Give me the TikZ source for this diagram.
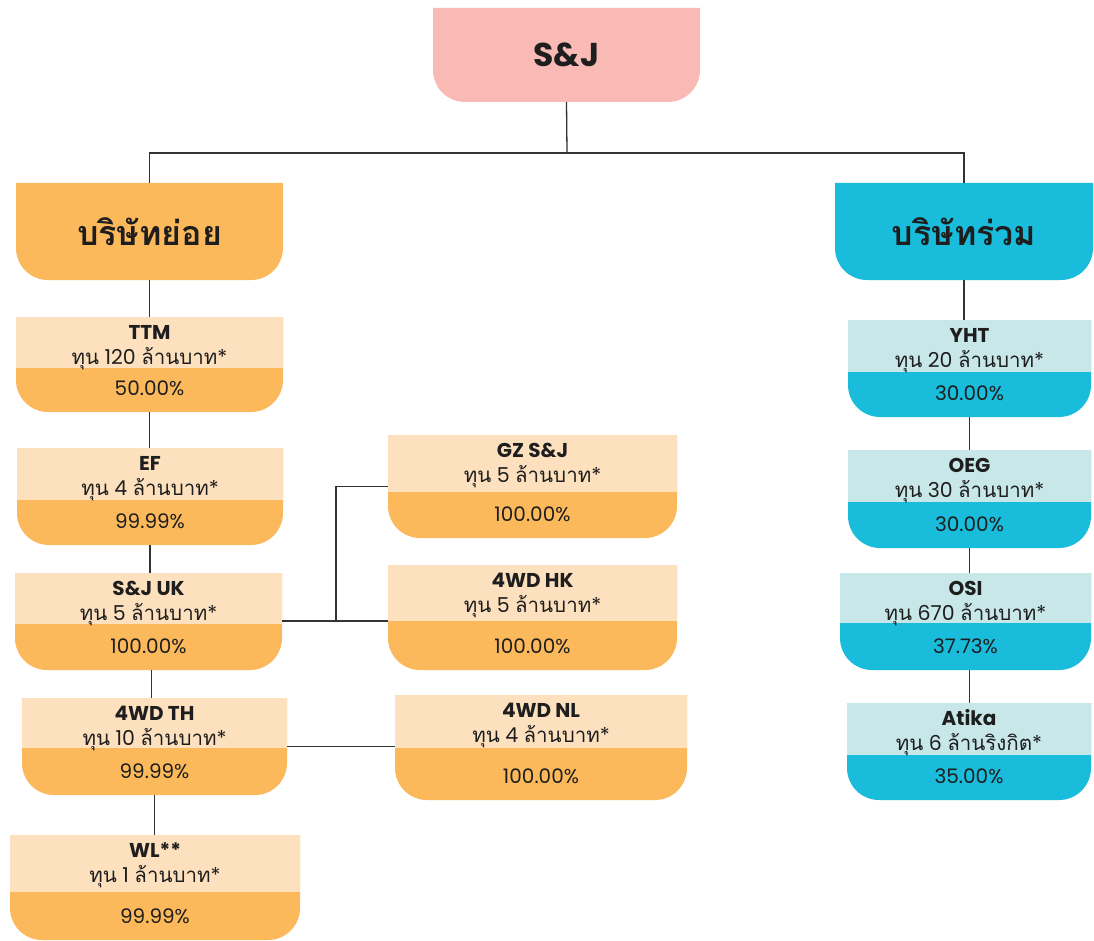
\documentclass[tikz,border=0pt]{standalone}
\usepackage{fontspec}
\setmainfont{Poppins}
\newfontfamily\thai[Script=Thai]{Loma}
\usetikzlibrary{fit}
\definecolor{orgdark}{HTML}{FBB95B}
\definecolor{orglight}{HTML}{FDE1BF}
\definecolor{cyandark}{HTML}{19BCDB}
\definecolor{cyanlight}{HTML}{C7E7E8}
\definecolor{pinkbox}{HTML}{F9BAB5}
\definecolor{linegray}{HTML}{333333}
\definecolor{txt}{HTML}{1E1E1E}
\tikzset{
  conn/.style={draw=linegray, line width=1.3pt},
  anchorbox/.style={inner sep=0pt, outer sep=0pt},
  titletext/.style={font=\fontsize{20}{22}\selectfont\bfseries, text=txt, inner sep=0pt, anchor=base},
  captext/.style={font=\fontsize{20.5}{22}\selectfont, text=txt, inner sep=0pt, anchor=base},
  pcttext/.style={font=\fontsize{20}{22}\selectfont, text=txt, inner sep=0pt, anchor=base},
  headtext/.style={font=\fontsize{34}{40}\selectfont\thai\bfseries, text=txt, inner sep=0pt},
  roottext/.style={font=\fontsize{33}{36}\selectfont\bfseries, text=txt, inner sep=0pt},
}
\def\R{32}
% name, x1, x2, ytop, ysplit, ybot, dark, light
\newcommand\orgbox[8]{%
  \fill[#7] (#2,-#4) -- (#3,-#4) -- (#3,-#6+\R) arc[start angle=0,end angle=-90,radius=\R]
    -- (#2+\R,-#6) arc[start angle=270,end angle=180,radius=\R] -- cycle;
  \fill[#8] (#2,-#4) rectangle (#3,-#5);
  \node[anchorbox, fit={(#2,-#4) (#3,-#6)}] (#1) {};
}
% name, x1, x2, ytop, ybot, colour
\newcommand\headbox[6]{%
  \fill[#6] (#2,-#4) -- (#3,-#4) -- (#3,-#5+\R) arc[start angle=0,end angle=-90,radius=\R]
    -- (#2+\R,-#5) arc[start angle=270,end angle=180,radius=\R] -- cycle;
  \node[anchorbox, fit={(#2,-#4) (#3,-#5)}] (#1) {};
}
\newcommand\boxtext[4]{%
  \node[titletext] (#1-t) at ([yshift=-22pt]#1.north) {#2};
  \node[captext] (#1-c) at ([yshift=-47pt]#1.north) {#3};
  \node[pcttext] (#1-p) at ([yshift=17pt]#1.south) {#4};
}
\newcommand\capline[1]{{\thai ทุน} #1 {\thai ล้านบาท}*}
\begin{document}
\begin{tikzpicture}[x=1pt,y=1pt]
\useasboundingbox (0,0) rectangle (1094,-941);
% root and headers
\headbox{sj}{433}{700}{8}{102}{pinkbox}
\node[roottext] (sj-t) at (sj.center) {S\&J};
\headbox{sub}{16}{283}{183}{280}{orgdark}
\node[headtext] (sub-t) at (sub.center) {บริษัทย่อย};
\headbox{joint}{835}{1093}{183}{280}{cyandark}
\node[headtext] (joint-t) at (joint.center) {บริษัทร่วม};
% subsidiaries
\orgbox{ttm}{16}{283}{317}{368}{412}{orgdark}{orglight}
\boxtext{ttm}{TTM}{\capline{120}}{50.00\%}
\orgbox{ef}{17}{283}{448}{500}{545}{orgdark}{orglight}
\boxtext{ef}{EF}{\capline{4}}{99.99\%}
\orgbox{sjuk}{15}{282}{573}{624}{670}{orgdark}{orglight}
\boxtext{sjuk}{S\&J UK}{\capline{5}}{100.00\%}
\orgbox{th}{22}{287}{698}{748}{795}{orgdark}{orglight}
\boxtext{th}{4WD TH}{\capline{10}}{99.99\%}
\orgbox{wl}{10}{300}{835}{892}{940}{orgdark}{orglight}
\boxtext{wl}{WL**}{\capline{1}}{99.99\%}
\orgbox{gz}{388}{677}{435}{492}{538}{orgdark}{orglight}
\boxtext{gz}{GZ S\&J}{\capline{5}}{100.00\%}
\orgbox{hk}{388}{677}{565}{621}{670}{orgdark}{orglight}
\boxtext{hk}{4WD HK}{\capline{5}}{100.00\%}
\orgbox{nl}{395}{687}{695}{748}{800}{orgdark}{orglight}
\boxtext{nl}{4WD NL}{\capline{4}}{100.00\%}
% associates
\orgbox{yht}{848}{1091}{320}{372}{417}{cyandark}{cyanlight}
\boxtext{yht}{YHT}{\capline{20}}{30.00\%}
\orgbox{oeg}{848}{1091}{450}{502}{548}{cyandark}{cyanlight}
\boxtext{oeg}{OEG}{\capline{30}}{30.00\%}
\orgbox{osi}{840}{1091}{573}{623}{670}{cyandark}{cyanlight}
\boxtext{osi}{OSI}{\capline{670}}{37.73\%}
\orgbox{atika}{847}{1091}{703}{755}{800}{cyandark}{cyanlight}
\boxtext{atika}{Atika}{{\thai ทุน} 6 {\thai ล้านริงกิต}*}{35.00\%}
% connectors
\coordinate (bus) at (567,-153);
\coordinate (jx) at (336,-621);
\draw[conn] (sj.south) -- (bus);
\draw[conn] (sub.north) |- (bus) -| (joint.north);
\draw[conn] (sub.south) -- (sub.south |- ttm.north);
\draw[conn] (ttm.south) -- (ttm.south |- ef.north);
\draw[conn] (ef.south) -- (ef.south |- sjuk.north);
\draw[conn] ([xshift=3pt]sjuk.south) -- ([xshift=3pt]sjuk.south |- th.north);
\draw[conn] (th.south) -- (th.south |- wl.north);
\draw[conn] (sjuk.east |- jx) -- (hk.west |- jx);
\draw[conn] (jx) |- (gz.west);
\draw[conn] (th.east) -- (nl.west |- th.east);
\draw[conn] (joint.south) -- (joint.south |- yht.north);
\draw[conn] (yht.south) -- (yht.south |- oeg.north);
\draw[conn] (oeg.south) -- (oeg.south |- osi.north);
\draw[conn] ([xshift=4pt]osi.south) -- ([xshift=4pt]osi.south |- atika.north);
\end{tikzpicture}
\end{document}
